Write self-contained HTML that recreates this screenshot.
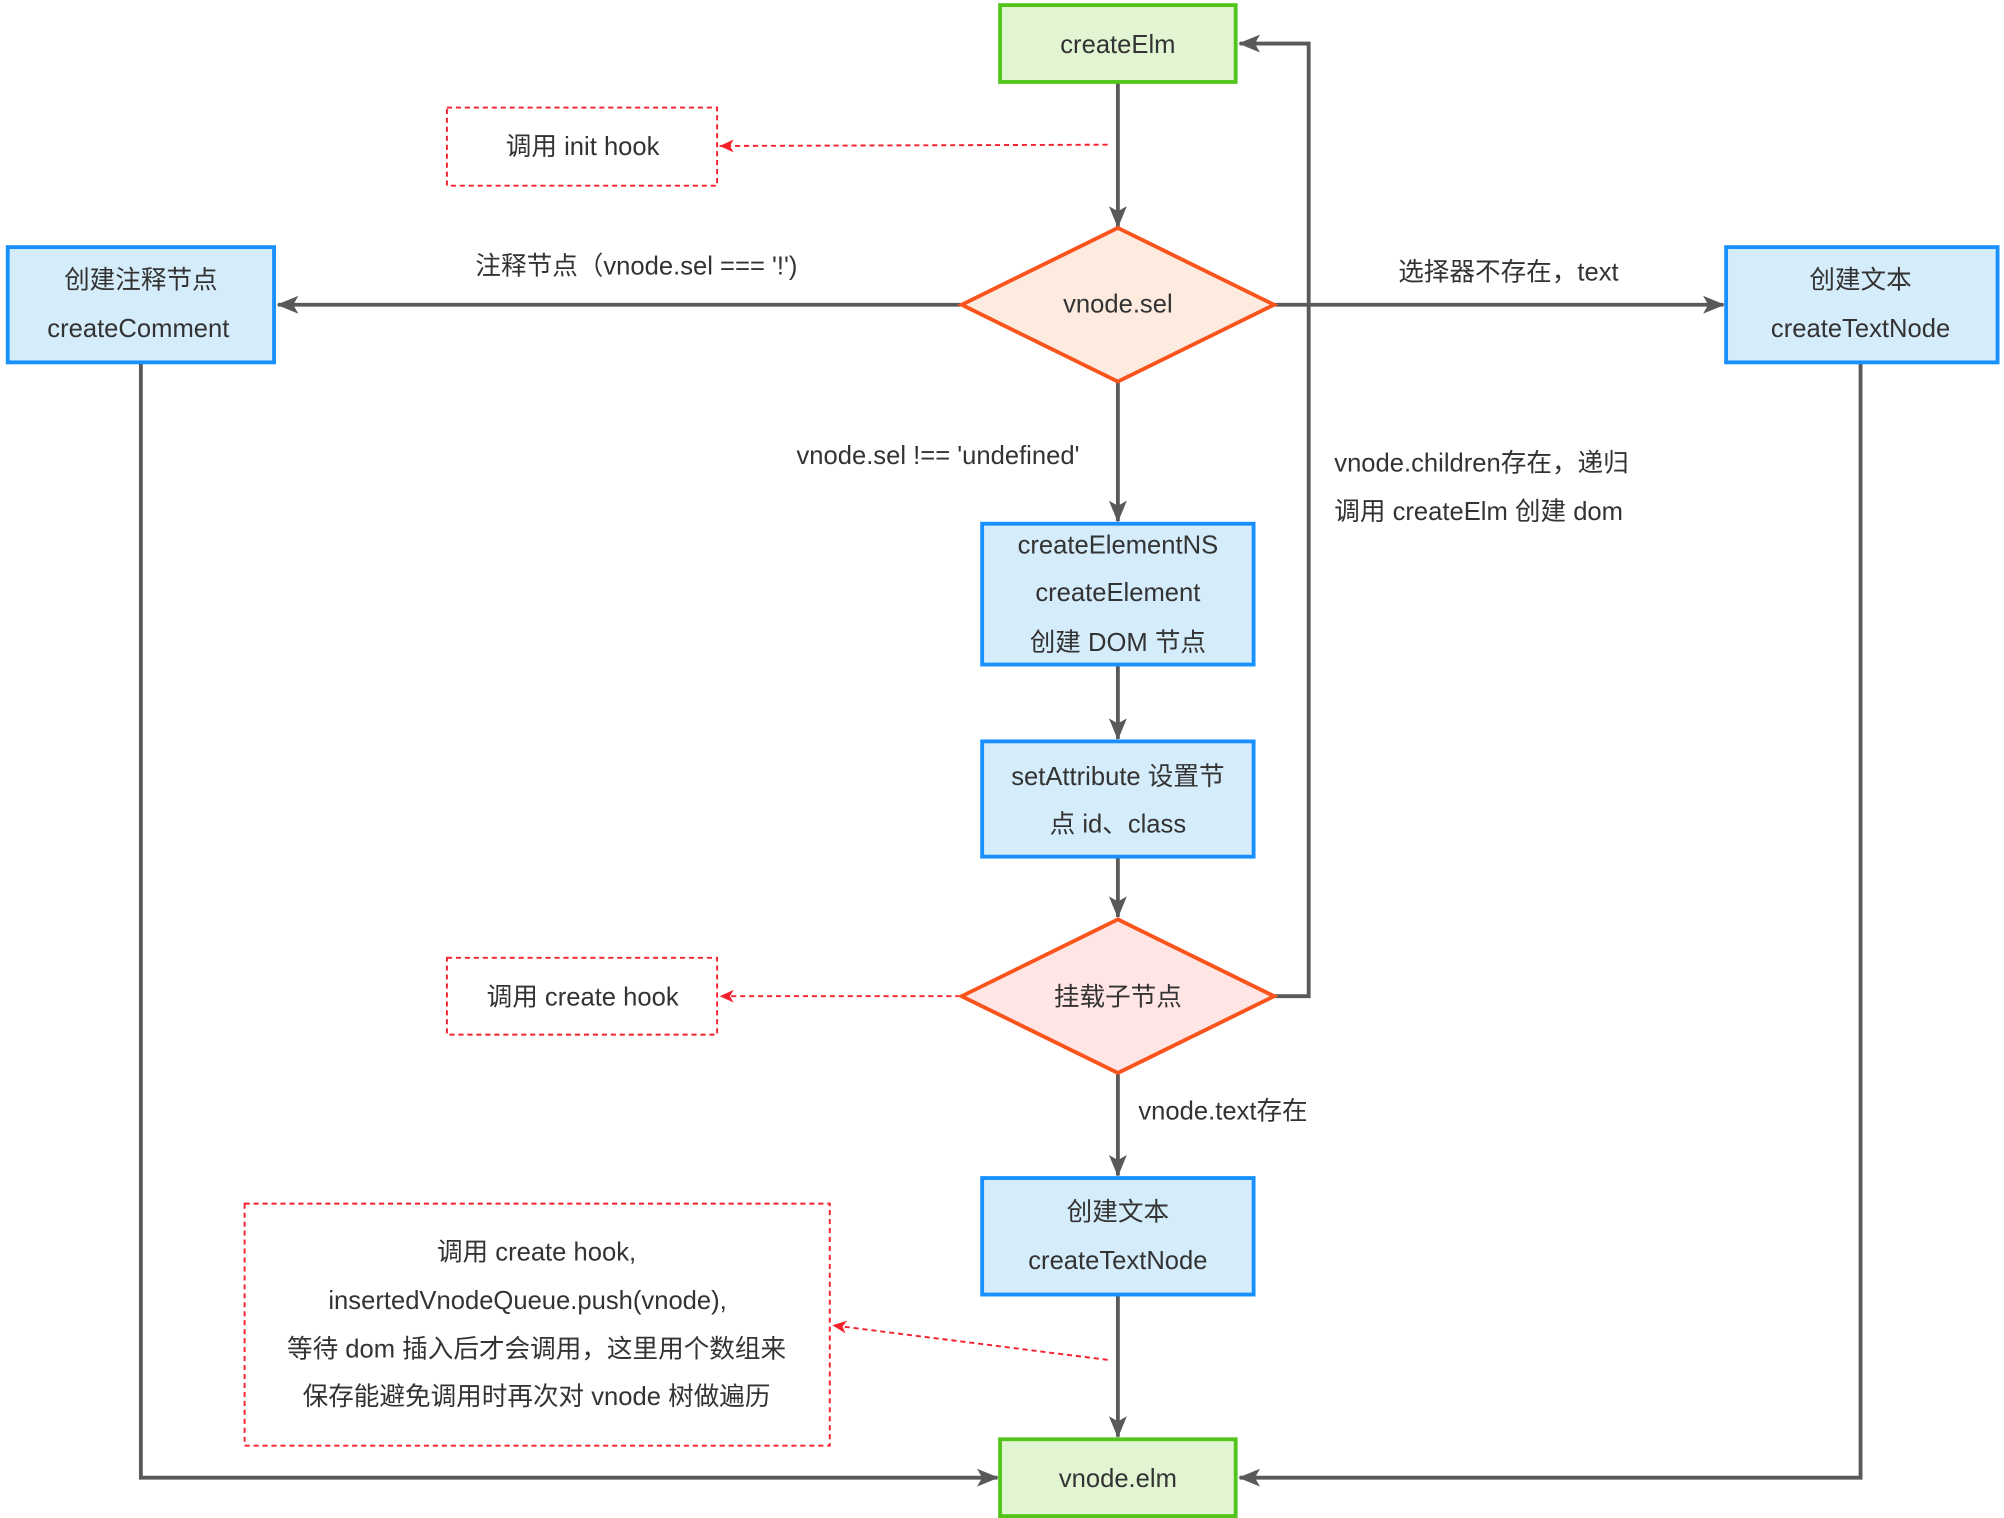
<!DOCTYPE html>
<html><head><meta charset="utf-8"><style>
html,body{margin:0;padding:0;background:#fff;}
svg{display:block;}
text{font-family:"Liberation Sans","Noto Sans CJK SC",sans-serif;font-size:20px;fill:#333;}
</style></head><body>
<svg width="2004" height="1518" viewBox="0 0 1565 1185.5" xmlns="http://www.w3.org/2000/svg">
<defs>
<marker id="a" markerWidth="10" markerHeight="10" refX="9" refY="5" orient="auto" markerUnits="userSpaceOnUse" viewBox="0 0 10 10"><path d="M0,0 L10,5 L0,10 L3,5 Z" fill="#595959" transform="scale(1.6) translate(-4,-2)"/></marker>
<marker id="g" markerWidth="18" markerHeight="14" refX="16" refY="7" orient="auto" markerUnits="userSpaceOnUse"><path d="M0,0 L17,7 L0,14 L4,7 Z" fill="#595959"/></marker>
<marker id="r" markerWidth="12" markerHeight="10" refX="11" refY="5" orient="auto" markerUnits="userSpaceOnUse"><path d="M0,0 L11,5 L0,10 L3,5 Z" fill="#f5222d"/></marker>
</defs>
<g stroke="#595959" stroke-width="3" fill="none">
<line x1="873" y1="64" x2="873" y2="177" marker-end="url(#g)"/>
<line x1="750" y1="238" x2="217" y2="238" marker-end="url(#g)"/>
<line x1="995" y1="238" x2="1346" y2="238" marker-end="url(#g)"/>
<polyline points="995,778 1022,778 1022,34 968,34" marker-end="url(#g)"/>
<line x1="873" y1="298" x2="873" y2="407" marker-end="url(#g)"/>
<line x1="873" y1="519" x2="873" y2="577" marker-end="url(#g)"/>
<line x1="873" y1="669" x2="873" y2="716" marker-end="url(#g)"/>
<line x1="873" y1="838" x2="873" y2="918" marker-end="url(#g)"/>
<line x1="873" y1="1011" x2="873" y2="1122" marker-end="url(#g)"/>
<polyline points="110,283 110,1154 779,1154" marker-end="url(#g)"/>
<polyline points="1453,283 1453,1154 968,1154" marker-end="url(#g)"/>
</g>
<g stroke="#f5222d" stroke-width="1.5" fill="none" stroke-dasharray="4,3">
<line x1="865" y1="113" x2="562" y2="114" marker-end="url(#r)"/>
<line x1="750" y1="778" x2="562" y2="778" marker-end="url(#r)"/>
<line x1="865" y1="1062" x2="650" y2="1035" marker-end="url(#r)"/>
<rect x="349" y="84" width="211" height="61"/>
<rect x="349" y="748" width="211" height="60"/>
<rect x="191" y="940" width="457" height="189"/>
</g>
<g stroke-width="3">
<rect x="781" y="4" width="184" height="60" fill="#e2f5d3" stroke="#52c41a"/>
<rect x="781" y="1124" width="184" height="60" fill="#e2f5d3" stroke="#52c41a"/>
<polygon points="873,178 995,238 873,298 751,238" fill="#fdebe0" stroke="#fa541c"/>
<polygon points="873,718 995,778 873,838 751,778" fill="#ffe5e3" stroke="#fa541c"/>
<rect x="6" y="193" width="208" height="90" fill="#d5ecfa" stroke="#1890ff"/>
<rect x="1348" y="193" width="212" height="90" fill="#d5ecfa" stroke="#1890ff"/>
<rect x="767" y="409" width="212" height="110" fill="#d5ecfa" stroke="#1890ff"/>
<rect x="767" y="579" width="212" height="90" fill="#d5ecfa" stroke="#1890ff"/>
<rect x="767" y="920" width="212" height="91" fill="#d5ecfa" stroke="#1890ff"/>
</g>
<g text-anchor="middle" dominant-baseline="central">
<text x="873" y="35">createElm</text>
<text x="455" y="115">调用 init hook</text>
<text x="873" y="238">vnode.sel</text>
<text x="110" y="219">创建注释节点</text>
<text x="108" y="257">createComment</text>
<text x="497" y="208">注释节点（vnode.sel === '!')</text>
<text x="1453" y="219">创建文本</text>
<text x="1453" y="257">createTextNode</text>
<text x="1178" y="213">选择器不存在，text</text>
<text x="873" y="426">createElementNS</text>
<text x="873" y="463">createElement</text>
<text x="873" y="502">创建 DOM 节点</text>
<text x="873" y="607">setAttribute 设置节</text>
<text x="873" y="644">点 id、class</text>
<text x="873" y="779">挂载子节点</text>
<text x="455" y="779">调用 create hook</text>
<text x="873" y="947">创建文本</text>
<text x="873" y="985">createTextNode</text>
<text x="419" y="978">调用 create hook,</text>
<text x="412" y="1016">insertedVnodeQueue.push(vnode),</text>
<text x="419" y="1054">等待 dom 插入后才会调用，这里用个数组来</text>
<text x="419" y="1091">保存能避免调用时再次对 vnode 树做遍历</text>
<text x="873" y="1155">vnode.elm</text>
</g>
<g dominant-baseline="central">
<text x="843" y="356" text-anchor="end">vnode.sel !== 'undefined'</text>
<text x="1042" y="362">vnode.children存在，递归</text>
<text x="1042" y="400">调用 createElm 创建 dom</text>
<text x="889" y="868">vnode.text存在</text>
</g>
</svg>
</body></html>
